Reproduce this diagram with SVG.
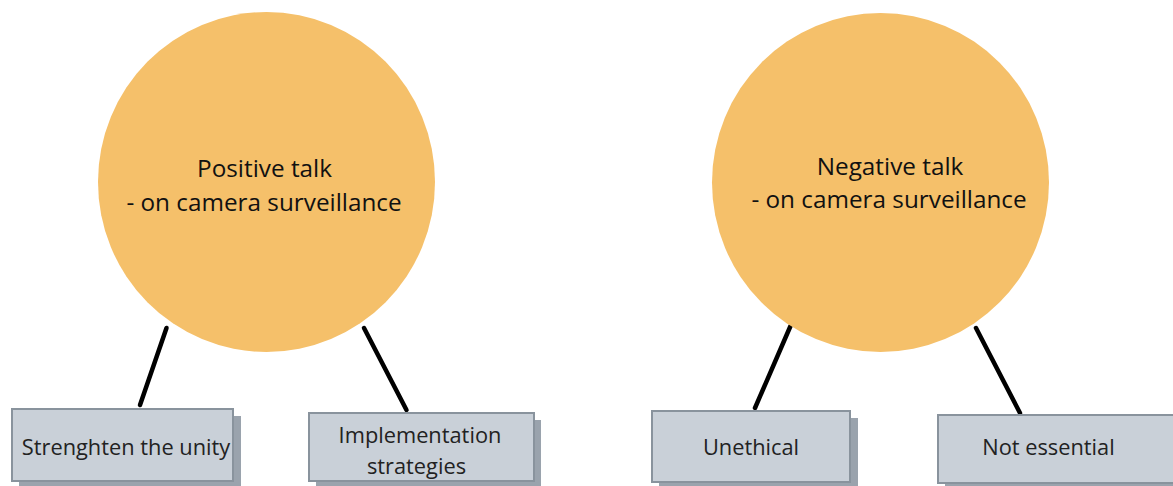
<svg xmlns="http://www.w3.org/2000/svg" width="1173" height="486" viewBox="0 0 1173 486">
  <style>
    .topic { fill: #f5c06a; }
    .topic-label { font-family: "Open Sans", "Liberation Sans", sans-serif; font-size: 24.3px; fill: #111; text-anchor: middle; }
    .box { fill: #c9d0d8; stroke: #89939d; stroke-width: 2; }
    .box-shadow { fill: #9aa3ad; }
    .box-label { font-family: "Open Sans", "Liberation Sans", sans-serif; font-size: 21.8px; fill: #222; text-anchor: middle; }
    .link { stroke: #000; stroke-width: 4.5; stroke-linecap: round; fill: none; }
  </style>

  <!-- connectors between topics and their sub-points -->
  <g id="connectors">
    <line class="link" x1="166.5" y1="328" x2="140" y2="405"/>
    <line class="link" x1="364" y1="328" x2="406.5" y2="410"/>
    <line class="link" x1="790.5" y1="326" x2="755" y2="408"/>
    <line class="link" x1="976" y1="328" x2="1020" y2="413"/>
  </g>

  <!-- main topics -->
  <g id="positive-talk">
    <ellipse class="topic" cx="266.5" cy="182" rx="168.5" ry="170"/>
    <text class="topic-label" x="264.5" y="177">Positive talk</text>
    <text class="topic-label" x="264" y="211">- on camera surveillance</text>
  </g>

  <g id="negative-talk">
    <ellipse class="topic" cx="880.5" cy="182.5" rx="168.5" ry="169.5"/>
    <text class="topic-label" x="890" y="175">Negative talk</text>
    <text class="topic-label" x="889" y="208">- on camera surveillance</text>
  </g>

  <!-- sub-points -->
  <g id="strengthen-unity">
    <rect class="box-shadow" x="19" y="416" width="222" height="72"/>
    <rect class="box" x="12" y="409" width="221" height="72"/>
    <text class="box-label" x="126" y="455">Strenghten the unity</text>
  </g>

  <g id="implementation-strategies">
    <rect class="box-shadow" x="316" y="420" width="225" height="68"/>
    <rect class="box" x="309" y="413" width="225" height="68"/>
    <text class="box-label" x="420" y="443">Implementation</text>
    <text class="box-label" x="416.5" y="474">strategies</text>
  </g>

  <g id="unethical">
    <rect class="box-shadow" x="659" y="418" width="199" height="71"/>
    <rect class="box" x="652" y="411" width="198" height="71"/>
    <text class="box-label" x="751" y="455">Unethical</text>
  </g>

  <g id="not-essential">
    <rect class="box-shadow" x="945" y="422" width="240" height="68"/>
    <rect class="box" x="938" y="415" width="240" height="68"/>
    <text class="box-label" x="1048.5" y="455">Not essential</text>
  </g>
</svg>
